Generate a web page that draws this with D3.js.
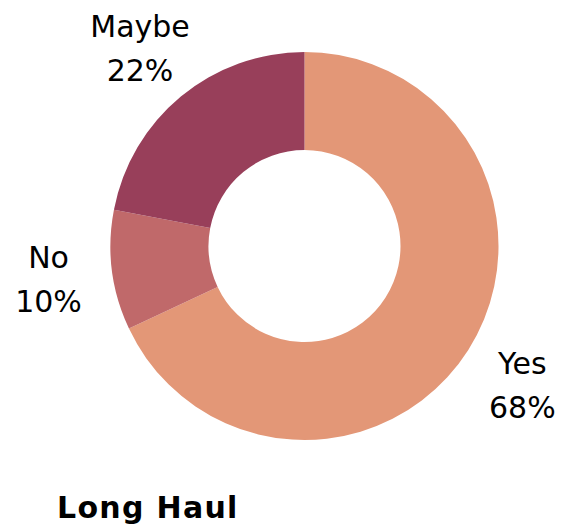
<!DOCTYPE html>
<html>
<head>
<meta charset="utf-8">
<script src="https://cdn.jsdelivr.net/npm/d3@7"></script>
<style>
  html, body { margin: 0; padding: 0; background: #fff; }
  svg { display: block; }
  text { font-family: "DejaVu Sans", sans-serif; fill: #000; }
</style>
</head>
<body>
<svg id="chart" width="569" height="529"></svg>
<script>
// Survey answers for the long-haul question
const categories = ["Yes", "No", "Maybe"];
const values = [68, 10, 22];
const colors = ["#E39777", "#C0696A", "#983F5A"];
const title = "Long Haul";

const svg = d3.select("#chart");
const cx = 304.5, cy = 246;
const outerR = 194, innerR = 96, labelR = 258;

const data = categories.map((c, i) => ({ label: c, value: values[i], color: colors[i] }));

const pie = d3.pie().sort(null).value(d => d.value);
const arc = d3.arc().innerRadius(innerR).outerRadius(outerR);
const labelArc = d3.arc().innerRadius(labelR).outerRadius(labelR);

const g = svg.append("g").attr("transform", `translate(${cx},${cy})`);
const arcs = pie(data);

g.selectAll("path.slice")
  .data(arcs)
  .join("path")
  .attr("class", "slice")
  .attr("d", arc)
  .attr("fill", d => d.data.color);

const labels = g.selectAll("g.label")
  .data(arcs)
  .join("g")
  .attr("class", "label")
  .attr("transform", d => `translate(${labelArc.centroid(d)})`);

labels.append("text")
  .attr("text-anchor", "middle")
  .attr("y", -10)
  .attr("font-size", 30)
  .text(d => d.data.label);

labels.append("text")
  .attr("text-anchor", "middle")
  .attr("y", 34)
  .attr("font-size", 30)
  .text(d => d3.format(".0%")(d.data.value / d3.sum(values)));

svg.append("text")
  .attr("x", 57)
  .attr("y", 518)
  .attr("font-size", 30)
  .attr("font-weight", "bold")
  .attr("letter-spacing", 1.3)
  .text(title);
</script>
</body>
</html>
